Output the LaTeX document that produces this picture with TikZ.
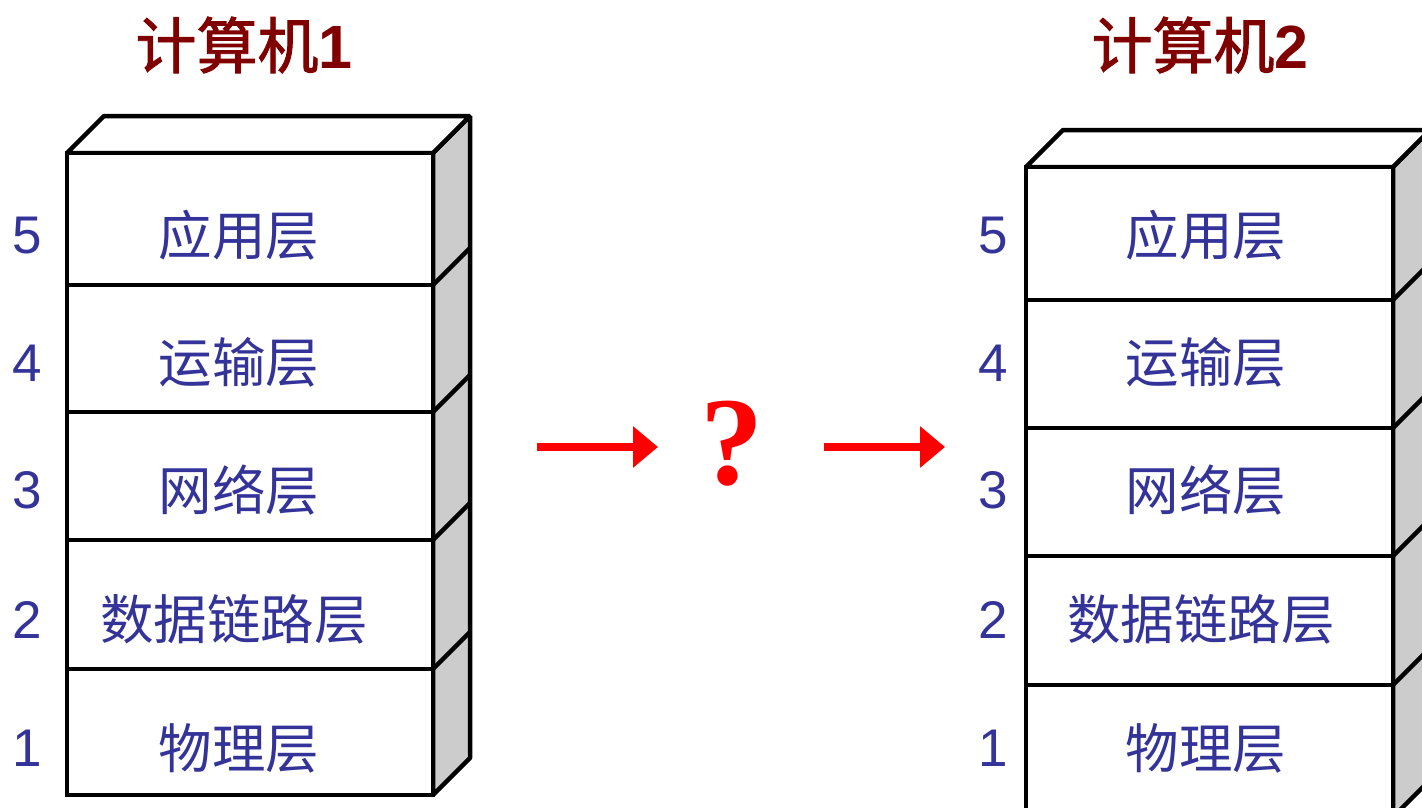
\documentclass[tikz,border=0pt]{standalone}
\usepackage{fontspec}
\setmainfont{Liberation Sans}
\newfontfamily\cjk{Noto Sans CJK SC}
\newfontfamily\cjktitle[FakeBold=1.5]{Noto Sans CJK SC}
\newfontfamily\qfont{Liberation Serif}
\usetikzlibrary{arrows.meta}
\definecolor{titlered}{RGB}{128,0,0}
\definecolor{labelblue}{RGB}{51,51,153}
\definecolor{sidegray}{RGB}{204,204,204}
\definecolor{arrowred}{RGB}{255,0,0}
\tikzset{
  edge/.style={draw=black, line width=4.5pt, line join=miter},
  layerbox/.style={edge, fill=white, rectangle, inner sep=0pt, outer sep=0pt},
  sideface/.style={edge, fill=sidegray, line join=bevel},
  topface/.style={edge, fill=white, line join=bevel},
  layertext/.style={font=\cjk\fontsize{53.5}{53.5}\selectfont, text=labelblue, inner sep=0pt},
  layernum/.style={font=\fontsize{53}{53}\selectfont, text=labelblue, inner sep=0pt},
  titletext/.style={font=\cjktitle\fontsize{61}{61}\selectfont, text=titlered, inner sep=0pt},
  flowarrow/.style={draw=arrowred, line width=8pt, -{Triangle[length=25pt,width=40pt]}},
}
\newcommand\titledigit[1]{{\normalfont\bfseries #1}}
\begin{document}
\begin{tikzpicture}[x=1pt, y=-1pt]
\useasboundingbox[fill=white] (0,0) rectangle (1422,807);

% ---- computer 1 : five-layer stack ----
\draw[sideface] (433,153) -- (470,116) -- (470,758) -- (433,795) -- cycle;
\draw[topface]  (67,153) -- (104,116) -- (470,116) -- (433,153) -- cycle;
\node[layerbox, minimum width=366pt, minimum height=132pt] (a5) at (250,219) {};
\node[layerbox, minimum width=366pt, minimum height=127pt] (a4) at (250,348.5) {};
\node[layerbox, minimum width=366pt, minimum height=128pt] (a3) at (250,476) {};
\node[layerbox, minimum width=366pt, minimum height=129pt] (a2) at (250,604.5) {};
\node[layerbox, minimum width=366pt, minimum height=126pt] (a1) at (250,732) {};
\foreach \n in {a4,a3,a2,a1}
  \draw[edge] (\n.north east) -- ++(37,-37);

\node[titletext] (t1) at (244,45) {计算机\titledigit{1}};
\node[layertext] (a5t) at (239,235) {应用层};
\node[layertext] (a4t) at (239,362) {运输层};
\node[layertext] (a3t) at (239,490) {网络层};
\node[layertext] (a2t) at (234,619) {数据链路层};
\node[layertext] (a1t) at (239,748) {物理层};
\node[layernum] (a5n) at (27,236) {5};
\node[layernum] (a4n) at (27,363) {4};
\node[layernum] (a3n) at (27,490) {3};
\node[layernum] (a2n) at (27,620) {2};
\node[layernum] (a1n) at (27,748) {1};

% ---- computer 2 : five-layer stack ----
\draw[sideface] (1393,167) -- (1430,130) -- (1430,780) -- (1393,817) -- cycle;
\draw[topface]  (1026,167) -- (1063,130) -- (1430,130) -- (1393,167) -- cycle;
\node[layerbox, minimum width=367pt, minimum height=133pt] (b5) at (1209.5,233.5) {};
\node[layerbox, minimum width=367pt, minimum height=128pt] (b4) at (1209.5,364) {};
\node[layerbox, minimum width=367pt, minimum height=128pt] (b3) at (1209.5,492) {};
\node[layerbox, minimum width=367pt, minimum height=129pt] (b2) at (1209.5,620.5) {};
\node[layerbox, minimum width=367pt, minimum height=130pt] (b1) at (1209.5,750) {};
\foreach \n in {b4,b3,b2,b1}
  \draw[edge] (\n.north east) -- ++(37,-37);

\node[titletext] (t2) at (1200,45) {计算机\titledigit{2}};
\node[layertext] (b5t) at (1206,235) {应用层};
\node[layertext] (b4t) at (1206,362) {运输层};
\node[layertext] (b3t) at (1206,490) {网络层};
\node[layertext] (b2t) at (1201,619) {数据链路层};
\node[layertext] (b1t) at (1206,748) {物理层};
\node[layernum] (b5n) at (993,236) {5};
\node[layernum] (b4n) at (993,363) {4};
\node[layernum] (b3n) at (993,490) {3};
\node[layernum] (b2n) at (993,620) {2};
\node[layernum] (b1n) at (993,748) {1};

% ---- unknown path between the two machines ----
\node[font=\qfont\bfseries\fontsize{126}{126}\selectfont, text=arrowred, inner sep=0pt] (q) at (732,444) {?};
\coordinate (p1) at (537,447);
\coordinate (p2) at (658,447);
\coordinate (p3) at (824,447);
\coordinate (p4) at (945,447);
\draw[flowarrow] (p1) -- (p2);
\draw[flowarrow] (p3) -- (p4);
\end{tikzpicture}
\end{document}
